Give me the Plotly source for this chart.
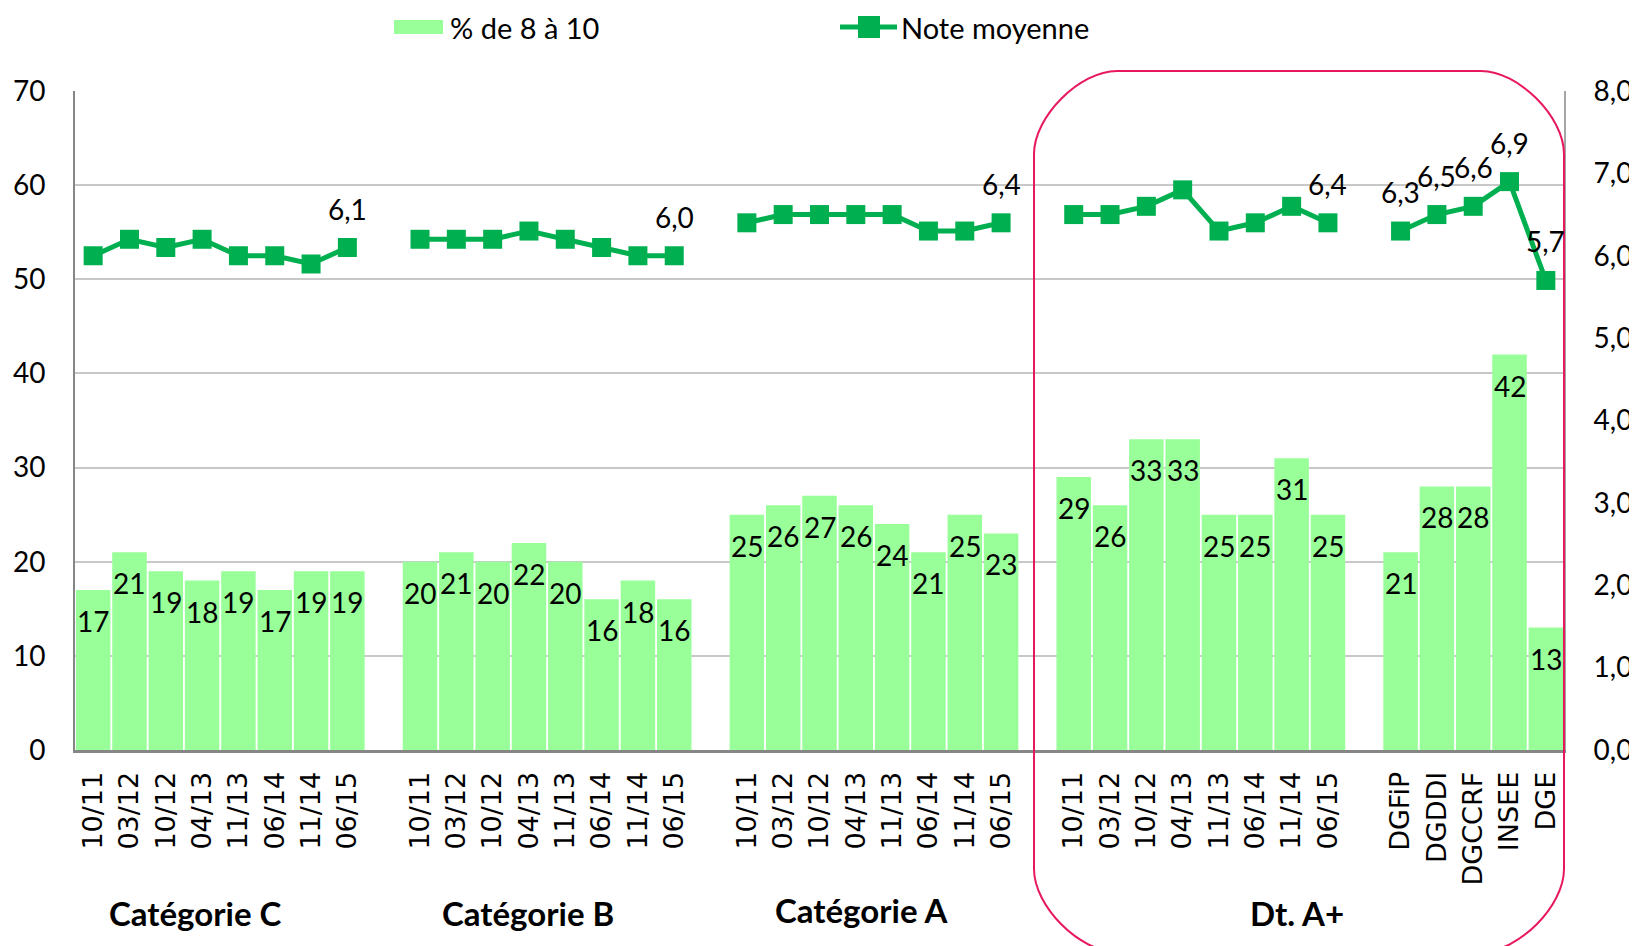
"""
Satisfaction chart: share of 8-10 scores (bars) and average score (line)
by staff category and survey wave, plus the five directions.
"""

import plotly.graph_objects as go

# ---- data -------------------------------------------------------------
periods = ["10/11", "03/12", "10/12", "04/13", "11/13", "06/14", "11/14", "06/15"]
directions = ["DGFiP", "DGDDI", "DGCCRF", "INSEE", "DGE"]
group_names = ["Catégorie C", "Catégorie B", "Catégorie A", "Dt. A+"]

pct_cat_c = [17, 21, 19, 18, 19, 17, 19, 19]
pct_cat_b = [20, 21, 20, 22, 20, 16, 18, 16]
pct_cat_a = [25, 26, 27, 26, 24, 21, 25, 23]
pct_dt_a_plus = [29, 26, 33, 33, 25, 25, 31, 25]
pct_directions = [21, 28, 28, 42, 13]

note_cat_c = [6.0, 6.2, 6.1, 6.2, 6.0, 6.0, 5.9, 6.1]
note_cat_b = [6.2, 6.2, 6.2, 6.3, 6.2, 6.1, 6.0, 6.0]
note_cat_a = [6.4, 6.5, 6.5, 6.5, 6.5, 6.3, 6.3, 6.4]
note_dt_a_plus = [6.5, 6.5, 6.6, 6.8, 6.3, 6.4, 6.6, 6.4]
note_directions = [6.3, 6.5, 6.6, 6.9, 5.7]

# ---- layout helpers ---------------------------------------------------
# positions below are screen pixels; the page body adds an 8px margin
OFF = 8
W, H = 1637 - OFF, 946 - OFF
PL, PR, PT, PB = 75, 1564, 91, 750   # plot area on screen

def px_x(p):
    return (p - PL) / (PR - PL)

def px_y(p):
    return (PB - p) / (PB - PT)

GREEN_BAR = "#99FF99"
GREEN_LINE = "#00B050"
FONT = "Lato"
TXT = 28

# one slot per bar, one empty slot between groups
blocks = [
    (periods, pct_cat_c, note_cat_c, True),
    (periods, pct_cat_b, note_cat_b, True),
    (periods, pct_cat_a, note_cat_a, True),
    (periods, pct_dt_a_plus, note_dt_a_plus, True),
    (directions, pct_directions, note_directions, False),
]

x_pos, labels, pct, note, show_note = [], [], [], [], []
line_x, line_y = [], []
slot = 0
for bi, (labs, p_vals, n_vals, last_only) in enumerate(blocks):
    for i, (lab, p, n) in enumerate(zip(labs, p_vals, n_vals)):
        x_pos.append(slot)
        labels.append(lab)
        pct.append(p)
        note.append(n)
        show_note.append((i == len(labs) - 1) if last_only else True)
        line_x.append(slot)
        line_y.append(n)
        slot += 1
    if bi < len(blocks) - 1:
        line_x.append(slot)
        line_y.append(None)   # break the line between groups
        slot += 1
n_slots = slot

fig = go.Figure()

fig.add_trace(go.Bar(
    x=x_pos,
    y=pct,
    name="% de 8 à 10",
    marker=dict(color=GREEN_BAR, line=dict(width=0)),
    showlegend=False,
))

fig.add_trace(go.Scatter(
    x=line_x,
    y=line_y,
    yaxis="y2",
    mode="lines+markers",
    name="Note moyenne",
    connectgaps=False,
    line=dict(color=GREEN_LINE, width=5),
    marker=dict(symbol="square", size=19, color=GREEN_LINE),
    cliponaxis=False,
    showlegend=False,
))

annotations = []

# bar value labels, just inside the top of each bar
for x, v in zip(x_pos, pct):
    annotations.append(dict(
        x=x, y=v, xref="x", yref="y", text=str(v), showarrow=False,
        yanchor="middle", yshift=-31,
        font=dict(family=FONT, size=TXT, color="black"),
    ))

# average score labels
for x, v, show in zip(x_pos, note, show_note):
    if show:
        annotations.append(dict(
            x=x, y=v, xref="x", yref="y2",
            text=f"{v:.1f}".replace(".", ","), showarrow=False,
            yanchor="middle", yshift=39,
            font=dict(family=FONT, size=TXT, color="black"),
        ))

# group titles under the axis
group_centers_px = [195, 528, 861, 1297]
group_y_px = [913, 913, 910, 913]
for name, cx, cy in zip(group_names, group_centers_px, group_y_px):
    annotations.append(dict(
        x=px_x(cx), y=px_y(cy), xref="paper", yref="paper", text=f"<b>{name}</b>",
        showarrow=False, xanchor="center", yanchor="middle",
        font=dict(family=FONT, size=33, color="black"),
    ))

# hand-drawn legend (Excel style swatches)
annotations.append(dict(
    x=px_x(448), y=px_y(27), xref="paper", yref="paper", text="% de 8 à 10",
    showarrow=False, xanchor="left", yanchor="middle",
    font=dict(family=FONT, size=29, color="black"),
))
annotations.append(dict(
    x=px_x(899), y=px_y(27), xref="paper", yref="paper", text="Note moyenne",
    showarrow=False, xanchor="left", yanchor="middle",
    font=dict(family=FONT, size=29, color="black"),
))

shapes = [
    dict(type="rect", xref="paper", yref="paper",
         x0=px_x(394), x1=px_x(443), y0=px_y(20), y1=px_y(34),
         fillcolor=GREEN_BAR, line=dict(width=0)),
    dict(type="line", xref="paper", yref="paper",
         x0=px_x(840), x1=px_x(897), y0=px_y(27), y1=px_y(27),
         line=dict(color=GREEN_LINE, width=5)),
    dict(type="rect", xref="paper", yref="paper",
         x0=px_x(858), x1=px_x(880), y0=px_y(16), y1=px_y(38),
         fillcolor=GREEN_LINE, line=dict(width=0)),
]

# rounded frame around the "Dt. A+" block (bottom edge runs off the page)
L, R, T, B, r = 1034, 1564, 71, 952, 83
k = 0.45 * r
pts = [
    ("M", [(L + r, T)]),
    ("L", [(R - r, T)]),
    ("C", [(R - r + k, T), (R, T + r - k), (R, T + r)]),
    ("L", [(R, B - r)]),
    ("C", [(R, B - r + k), (R - r + k, B), (R - r, B)]),
    ("L", [(L + r, B)]),
    ("C", [(L + r - k, B), (L, B - r + k), (L, B - r)]),
    ("L", [(L, T + r)]),
    ("C", [(L, T + r - k), (L + r - k, T), (L + r, T)]),
]
path = ""
for cmd, pp in pts:
    path += cmd + " ".join(f"{px_x(a):.5f},{px_y(b):.5f}" for a, b in pp) + " "
path += "Z"
shapes.append(dict(type="path", xref="paper", yref="paper", path=path,
                   line=dict(color="#E8185C", width=2), layer="above"))

fig.update_layout(
    width=W,
    height=H,
    margin=dict(l=PL - OFF, r=W - (PR - OFF), t=PT - OFF, b=H - (PB - OFF),
                autoexpand=False),
    paper_bgcolor="white",
    plot_bgcolor="white",
    separators=", ",
    bargap=0.05,
    showlegend=False,
    font=dict(family=FONT, size=TXT, color="black"),
    xaxis=dict(
        range=[-0.5, n_slots - 0.5],
        tickmode="array",
        tickvals=x_pos,
        ticktext=labels,
        tickangle=-90,
        tickfont=dict(family="DejaVu Sans", size=27, color="black"),
        ticks="",
        ticklabelstandoff=8,
        showgrid=False,
        zeroline=False,
        showline=True,
        linecolor="#868686",
        linewidth=3,
    ),
    yaxis=dict(
        range=[0, 70],
        dtick=10,
        showgrid=True,
        gridcolor="#C8C8C8",
        gridwidth=2,
        zeroline=False,
        showline=True,
        linecolor="#868686",
        linewidth=2,
        ticks="",
        ticklabelstandoff=22,
        tickfont=dict(family=FONT, size=TXT, color="black"),
    ),
    yaxis2=dict(
        range=[0, 8],
        dtick=1,
        tickformat=".1f",
        overlaying="y",
        side="right",
        showgrid=False,
        zeroline=False,
        showline=True,
        linecolor="#A6A6A6",
        linewidth=2,
        ticks="",
        ticklabelstandoff=22,
        tickfont=dict(family=FONT, size=TXT, color="black"),
    ),
    annotations=annotations,
    shapes=shapes,
)

fig.write_html("out.html")
